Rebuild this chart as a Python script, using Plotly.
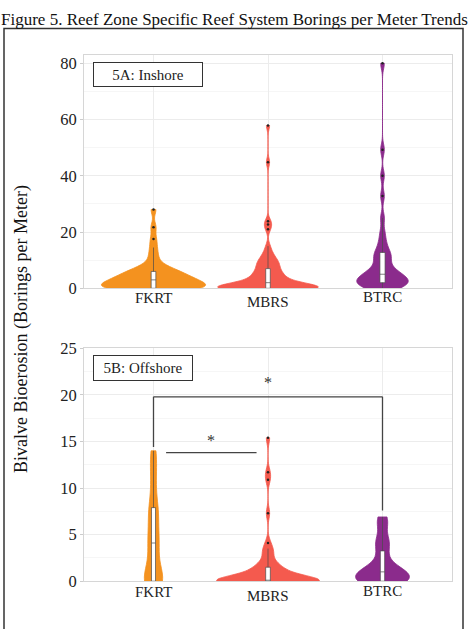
import plotly.graph_objects as go

W, H = 472, 629

categories = ["FKRT", "MBRS", "BTRC"]
colors = {"FKRT": "#F4921F", "MBRS": "#F45A4E", "BTRC": "#8B2B8C"}

# Inshore (5A) borings per meter
inshore_FKRT = [0]*12 + [1]*4 + [2]*4 + [3]*5 + [4]*3 + [5]*3 + [6]*3 + [7]*2 + [8, 10, 12, 14.5, 17.5, 21.7, 28]
inshore_MBRS = [0]*24 + [1]*6 + [2]*4 + [3]*3 + [4]*3 + [5]*3 + [6]*2 + [7]*2 + [8]*2 + [9]*2 + [10]*2 + [11, 12, 13, 15, 21, 22.7, 23.8, 44.8, 57.9]
inshore_BTRC = [0]*3 + [1]*3 + [2]*4 + [3]*3 + [4]*3 + [5]*2 + [6]*2 + [7, 8, 10, 10, 12, 12, 13, 15, 17, 20, 25, 32.8, 40, 49.3, 80]

# Offshore (5B) borings per meter
offshore_FKRT = [0]*6 + [1, 2, 3, 4, 4.2, 5, 6, 7, 7.8, 8, 10, 11.5, 13, 14]
offshore_MBRS = [0]*30 + [1]*5 + [1.5]*3 + [2]*2 + [3]*2 + [3.5, 4.1, 7.3, 10.9, 11.7, 15.4]
offshore_BTRC = [0]*6 + [1]*5 + [2, 3, 4, 4.5, 6, 6.9]

inshore = {"FKRT": inshore_FKRT, "MBRS": inshore_MBRS, "BTRC": inshore_BTRC}
offshore = {"FKRT": offshore_FKRT, "MBRS": offshore_MBRS, "BTRC": offshore_BTRC}

# style per trace: (violin width, bandwidth, box width fraction)
style_in = {"FKRT": (0.91, 1.8, 0.045), "MBRS": (0.88, 1.5, 0.045), "BTRC": (0.45, 2.0, 0.10)}
style_off = {"FKRT": (0.16, 1.4, 0.22), "MBRS": (0.90, 0.6, 0.045), "BTRC": (0.47, 0.8, 0.08)}

serif = "Liberation Serif"

fig = go.Figure()

def add_violins(data, style, xa, ya):
    for c in categories:
        w, bw, bxw = style[c]
        fig.add_trace(go.Violin(
            x=[c]*len(data[c]), y=data[c], name=c, xaxis=xa, yaxis=ya,
            width=w, bandwidth=bw, spanmode="hard", scalemode="width",
            fillcolor=colors[c], opacity=1,
            line=dict(color=colors[c], width=0.8),
            box=dict(visible=True, width=bxw, fillcolor="white",
                     line=dict(color="#4a4a4a", width=0.7)),
            meanline=dict(visible=False),
            points="outliers", pointpos=0, jitter=0,
            marker=dict(color="#222222", size=2.5, line=dict(width=0)),
            showlegend=False, hoverinfo="y"))

add_violins(inshore, style_in, "x", "y")
add_violins(offshore, style_off, "x2", "y2")

xdom = [84/W, 452/W]
ydom1 = [1-288/H, 1-47/H]
ydom2 = [1-590/H, 1-350/H]

axis_common = dict(showline=True, linecolor="#d6d6d6", linewidth=1, mirror=True,
                   gridcolor="#ececec", gridwidth=1, zeroline=False)

fig.update_layout(
    width=W, height=H, margin=dict(l=0, r=0, t=0, b=0),
    paper_bgcolor="white", plot_bgcolor="white",
    violinmode="overlay",
    font=dict(family=serif, color="#222222", size=14),
    xaxis=dict(domain=xdom, anchor="y", range=[-0.607, 2.607], type="category",
               categoryorder="array", categoryarray=categories, showticklabels=False,
               **axis_common),
    xaxis2=dict(domain=xdom, anchor="y2", range=[-0.607, 2.607], type="category",
                categoryorder="array", categoryarray=categories, showticklabels=False,
                **axis_common),
    yaxis=dict(domain=ydom1, anchor="x", range=[0, 83.1], tickvals=[0, 20, 40, 60, 80],
               ticks="outside", ticklen=3, tickcolor="#cccccc",
               tickfont=dict(family=serif, size=16.5, color="#222"),
               minor=dict(tickvals=[10, 30, 50, 70], showgrid=True, gridcolor="#f6f6f6"),
               **axis_common),
    yaxis2=dict(domain=ydom2, anchor="x2", range=[0, 25], tickvals=[0, 5, 10, 15, 20, 25],
                ticks="outside", ticklen=3, tickcolor="#cccccc",
                tickfont=dict(family=serif, size=16.5, color="#222"),
                minor=dict(tickvals=[2.5, 7.5, 12.5, 17.5, 22.5], showgrid=True, gridcolor="#f6f6f6"),
                **axis_common),
)

ann = []
# Title
ann.append(dict(text="Figure 5. Reef Zone Specific Reef System Borings per Meter Trends",
                x=234/W, y=1-11/H, xref="paper", yref="paper", xanchor="center", yanchor="middle",
                showarrow=False, font=dict(family=serif, size=17, color="#111")))
# Y axis title
ann.append(dict(text="Bivalve Bioerosion (Borings per Meter)", textangle=-90,
                x=21/W, y=1-330/H, xref="paper", yref="paper", xanchor="center", yanchor="middle",
                showarrow=False, font=dict(family=serif, size=18, color="#111")))
# Category labels
label_offsets = {"FKRT": 0, "MBRS": 4, "BTRC": -1}
for c in categories:
    ann.append(dict(text=c, x=c, xref="x", y=1-(298+label_offsets[c])/H, yref="paper",
                    xanchor="center", yanchor="middle", showarrow=False,
                    font=dict(family=serif, size=15, color="#222")))
    ann.append(dict(text=c, x=c, xref="x2", y=1-(601+label_offsets[c])/H, yref="paper",
                    xanchor="center", yanchor="middle", showarrow=False,
                    font=dict(family=serif, size=15, color="#222")))
# Panel labels
ann.append(dict(text="5A: Inshore", x=93/W, y=1-55/H, xref="paper", yref="paper",
                xanchor="left", yanchor="top", showarrow=False, width=106, height=21,
                bordercolor="#333", borderwidth=1, borderpad=1, bgcolor="white",
                font=dict(family=serif, size=15, color="#222")))
ann.append(dict(text="5B: Offshore", x=93/W, y=1-357/H, xref="paper", yref="paper",
                xanchor="left", yanchor="top", showarrow=False, width=96, height=22,
                bordercolor="#333", borderwidth=1, borderpad=1, bgcolor="white",
                font=dict(family=serif, size=15, color="#222")))
# Significance asterisks
ann.append(dict(text="*", x="MBRS", xref="x2", y=21.3, yref="y2", showarrow=False,
                font=dict(family=serif, size=16, color="#333333")))
ann.append(dict(text="*", x=0.5, xref="x2", y=15.1, yref="y2", showarrow=False,
                font=dict(family=serif, size=16, color="#333333")))
fig.update_layout(annotations=ann)

line_style = dict(color="#444444", width=1.3)
shapes = [
    # outer frame
    dict(type="rect", xref="paper", yref="paper", x0=4/W, x1=463/W, y0=-0.1, y1=1-20/H,
         line=dict(color="#333333", width=1.5), fillcolor="rgba(0,0,0,0)"),
    # FKRT-BTRC bracket
    dict(type="line", xref="x2", yref="y2", x0=0, x1=0, y0=14.4, y1=19.8, line=line_style),
    dict(type="line", xref="x2", yref="y2", x0=0, x1=2, y0=19.8, y1=19.8, line=line_style),
    dict(type="line", xref="x2", yref="y2", x0=2, x1=2, y0=19.8, y1=7.6, line=line_style),
    # FKRT-MBRS line
    dict(type="line", xref="x2", yref="y2", x0=0.11, x1=0.9, y0=13.8, y1=13.8, line=line_style),
]
fig.update_layout(shapes=shapes)

fig.write_html("out.html")
